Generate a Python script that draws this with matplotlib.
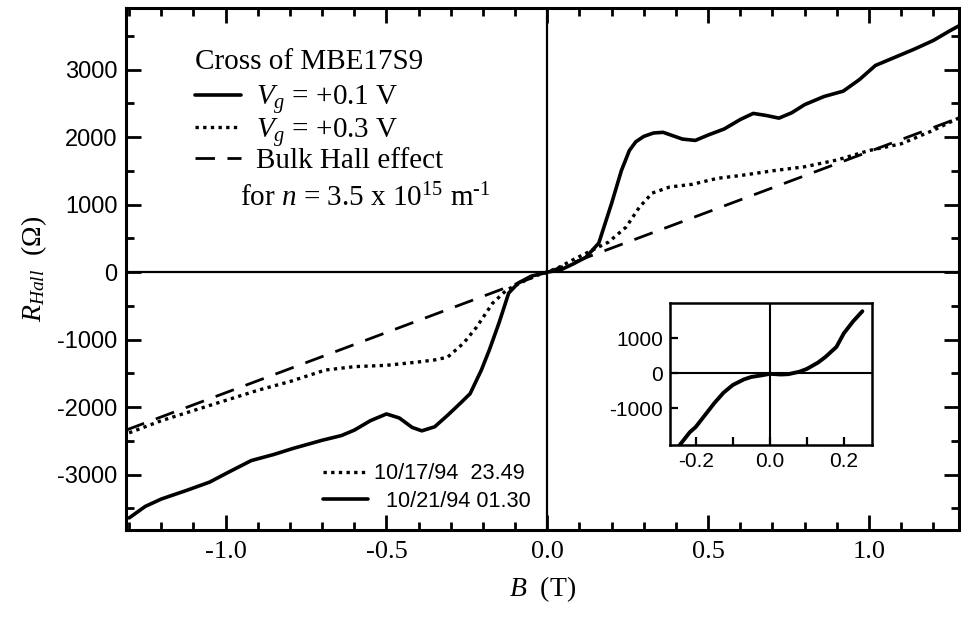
import matplotlib.pyplot as plt
from matplotlib.ticker import MultipleLocator

plt.rcParams['font.family'] = ['Liberation Serif', 'DejaVu Serif']
plt.rcParams['mathtext.fontset'] = 'custom'
plt.rcParams['mathtext.rm'] = 'Liberation Serif'
plt.rcParams['mathtext.it'] = 'Liberation Serif:italic'

# Vg = +0.1 V (solid)
b_solid = [-1.30, -1.25, -1.20, -1.12, -1.05, -0.99, -0.92, -0.85, -0.79, -0.70,
           -0.64, -0.60, -0.55, -0.50, -0.46, -0.42, -0.39, -0.35, -0.31, -0.27,
           -0.24, -0.205, -0.18, -0.15, -0.12, -0.09, -0.05, 0.0, 0.04, 0.08,
           0.12, 0.16, 0.20, 0.23, 0.255, 0.275, 0.30, 0.33, 0.36, 0.39, 0.42,
           0.46, 0.50, 0.55, 0.60, 0.64, 0.68, 0.72, 0.76, 0.80, 0.86, 0.92,
           0.97, 1.02, 1.08, 1.14, 1.20, 1.25, 1.30]
r_solid = [-3640, -3470, -3360, -3230, -3110, -2960, -2790, -2700, -2610, -2490,
           -2420, -2340, -2200, -2100, -2160, -2300, -2350, -2290, -2120, -1940,
           -1800, -1450, -1150, -750, -310, -160, -60, 0, 30, 120,
           220, 430, 1020, 1500, 1800, 1930, 2010, 2060, 2070, 2020, 1970,
           1950, 2030, 2120, 2260, 2350, 2320, 2280, 2360, 2480, 2600, 2680,
           2850, 3060, 3180, 3300, 3430, 3570, 3700]

# Vg = +0.3 V (dotted)
b_dot = [-1.30, -1.20, -1.10, -1.00, -0.90, -0.80, -0.69, -0.60, -0.50, -0.40,
         -0.35, -0.31, -0.26, -0.22, -0.17, -0.127, -0.08, -0.04, 0.0, 0.04,
         0.078, 0.14, 0.19, 0.245, 0.286, 0.326, 0.38, 0.45, 0.53, 0.60, 0.70,
         0.80, 0.90, 1.00, 1.10, 1.20, 1.30]
r_dot = [-2380, -2200, -2050, -1900, -1750, -1620, -1450, -1400, -1380, -1330,
         -1300, -1260, -1050, -815, -460, -267, -150, -60, 0, 80,
         178, 326, 444, 667, 960, 1170, 1260, 1300, 1390, 1430, 1500,
         1560, 1660, 1800, 1900, 2100, 2330]

# bulk Hall line, n = 3.5e15
b_bulk = [-1.31, 1.30]
r_bulk = [-2340, 2320]

# inset trace (Vg = +0.1 V, low field)
b_inset = [-0.245, -0.216, -0.20, -0.175, -0.15, -0.125, -0.10, -0.07, -0.05,
           -0.02, 0.0, 0.03, 0.05, 0.08, 0.10, 0.13, 0.15, 0.18, 0.20, 0.225, 0.25]
r_inset = [-2080, -1690, -1540, -1200, -860, -560, -340, -180, -110,
           -60, -20, -40, -30, 40, 120, 300, 460, 750, 1140, 1480, 1770]

fig = plt.figure(figsize=(9.61, 6.2), dpi=100)
ax = fig.add_axes([0.131, 0.145, 0.867, 0.842])

ax.axhline(0, color='black', lw=1.6, zorder=1)
ax.axvline(0, color='black', lw=1.6, zorder=1)

l_solid, = ax.plot(b_solid, r_solid, color='black', lw=2.6, solid_capstyle='round',
                   solid_joinstyle='round')
l_dot, = ax.plot(b_dot, r_dot, color='black', lw=2.4, linestyle=(0, (1, 1.3)))
l_bulk, = ax.plot(b_bulk, r_bulk, color='black', lw=2.0, linestyle=(0, (7, 4.5)))

ax.set_xlim(-1.31, 1.28)
ax.set_ylim(-3820, 3910)
ax.xaxis.set_major_locator(MultipleLocator(0.5))
ax.xaxis.set_minor_locator(MultipleLocator(0.1))
ax.yaxis.set_major_locator(MultipleLocator(1000))
ax.yaxis.set_minor_locator(MultipleLocator(500))
ax.tick_params(which='both', direction='in', top=True, right=True, width=2)
ax.tick_params(which='major', length=11)
ax.tick_params(which='minor', length=5.5)
ax.tick_params(axis='x', labelsize=19, pad=8)
ax.tick_params(axis='y', labelsize=17, pad=6)
ax.xaxis.set_major_formatter(lambda v, p: f"{v:.1f}")
ax.yaxis.set_major_formatter(lambda v, p: f"{v:.0f}")
for lbl in ax.get_yticklabels():
    lbl.set_fontfamily('Liberation Sans')
for s in ax.spines.values():
    s.set_linewidth(2.2)

ax.set_xlabel(r"$B$  (T)", fontsize=20, labelpad=8)
ax.set_ylabel(r"$R_{Hall}$  ($\Omega$)", fontsize=20, labelpad=6)

# main legend
ax.text(0.083, 0.897, "Cross of MBE17S9", fontsize=21, transform=ax.transAxes,
        va='center', ha='left')
leg = ax.legend([l_solid, l_dot, l_bulk],
                [r"$V_g$ = +0.1 V", r"$V_g$ = +0.3 V", "Bulk Hall effect"],
                fontsize=21, loc='upper left', bbox_to_anchor=(0.083, 0.856),
                frameon=False, handlelength=1.58, handletextpad=0.5,
                labelspacing=-0.02, borderpad=0, borderaxespad=0)
ax.add_artist(leg)
ax.text(0.137, 0.636, r"for $n$ = 3.5 x 10$^{15}$ m$^{\text{-1}}$", fontsize=21,
        transform=ax.transAxes, va='center', ha='left')

# date legend
ax.legend([l_dot, l_solid], ["10/17/94  23.49", "  10/21/94 01.30"],
          prop={'family': 'Liberation Sans', 'size': 15.7},
          loc='lower left', bbox_to_anchor=(0.2365, 0.035), frameon=False,
          handlelength=2.05, handletextpad=0.3, labelspacing=0.3,
          borderpad=0, borderaxespad=0)

# inset
ins = fig.add_axes([0.697, 0.282, 0.21, 0.229])
ins.axhline(0, color='black', lw=1.5)
ins.axvline(0, color='black', lw=1.5)
ins.plot(b_inset, r_inset, color='black', lw=2.8, solid_capstyle='round',
         solid_joinstyle='round')
ins.set_xlim(-0.27, 0.275)
ins.set_ylim(-2060, 2000)
ins.set_xticks([-0.2, -0.1, 0.0, 0.1, 0.2])
ins.set_xticklabels(["-0.2", "", "0.0", "", "0.2"])
ins.set_yticks([-1000, 0, 1000])
ins.set_yticklabels(["-1000", "0", "1000"])
ins.tick_params(direction='in', width=1.6, length=6, labelsize=15, pad=5)
for lbl in ins.get_xticklabels() + ins.get_yticklabels():
    lbl.set_fontfamily('Liberation Sans')
for s in ins.spines.values():
    s.set_linewidth(1.8)

fig.savefig("out.png", dpi=100)
